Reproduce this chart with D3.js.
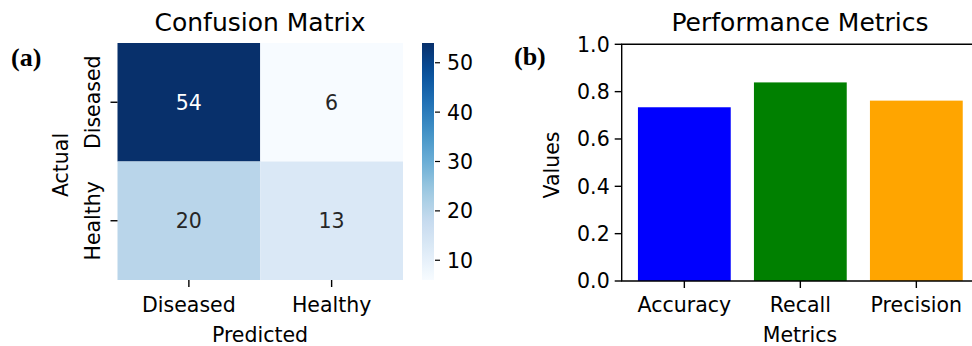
<!DOCTYPE html>
<html>
<head>
<meta charset="utf-8">
<script src="https://cdn.jsdelivr.net/npm/d3@7"></script>
<style>
  body { margin: 0; background: #fff; }
  svg text { font-family: "DejaVu Sans", sans-serif; }
</style>
</head>
<body>
<svg width="972" height="346"></svg>
<script>
(function () {
    // Data
    const classes = ["Diseased", "Healthy"];
    const matrix = [
        [54, 6],
        [20, 13],
    ];
    const cbTicks = [10, 20, 30, 40, 50];
    const metrics = ["Accuracy", "Recall", "Precision"];
    const metricValues = [0.734, 0.839, 0.762];
    const barColors = ["blue", "green", "orange"];
    const yTicks = [0.0, 0.2, 0.4, 0.6, 0.8, 1.0];

    const svg = d3.select("svg");
    const fs = 20.5;

    // matplotlib "Blues" (linear segments through the brewer colours)
    const blues = d3.piecewise(d3.interpolateRgb, [
        "#f7fbff", "#deebf7", "#c6dbef", "#9ecae1", "#6baed6",
        "#4292c6", "#2171b5", "#08519c", "#08306b",
    ]);
    const flat = matrix.flat();
    const vmin = d3.min(flat), vmax = d3.max(flat);
    const color = (v) => blues((v - vmin) / (vmax - vmin));

    // ---------- (a) heatmap ----------
    const hx = d3.scaleBand().domain(classes).range([117.5, 403]);
    const hy = d3.scaleBand().domain(classes).range([43, 280]);

    const cells = [];
    matrix.forEach((row, i) => row.forEach((v, j) => cells.push({ r: classes[i], c: classes[j], v })));

    const hm = svg.append("g");
    hm.selectAll("rect")
        .data(cells)
        .enter()
        .append("rect")
        .attr("x", (d) => hx(d.c))
        .attr("y", (d) => hy(d.r))
        .attr("width", hx.bandwidth())
        .attr("height", hy.bandwidth())
        .attr("fill", (d) => color(d.v));

    hm.selectAll("text.ann")
        .data(cells)
        .enter()
        .append("text")
        .attr("class", "ann")
        .attr("x", (d) => hx(d.c) + hx.bandwidth() / 2)
        .attr("y", (d) => hy(d.r) + hy.bandwidth() / 2)
        .attr("dy", "0.36em")
        .attr("text-anchor", "middle")
        .style("font-size", fs + "px")
        .attr("fill", (d) => ((d.v - vmin) / (vmax - vmin) > 0.5 ? "#ffffff" : "#262626"))
        .text((d) => d.v);

    // x ticks
    classes.forEach((c) => {
        const x = hx(c) + hx.bandwidth() / 2;
        hm.append("line").attr("x1", x).attr("x2", x).attr("y1", 280).attr("y2", 287)
            .attr("stroke", "#000").attr("stroke-width", 1.4);
        hm.append("text").attr("x", x).attr("y", 312).attr("text-anchor", "middle")
            .style("font-size", fs + "px").attr("fill", "#000").text(c);
    });
    // y ticks
    classes.forEach((c) => {
        const y = hy(c) + hy.bandwidth() / 2;
        hm.append("line").attr("x1", 110.5).attr("x2", 117.5).attr("y1", y).attr("y2", y)
            .attr("stroke", "#000").attr("stroke-width", 1.4);
        hm.append("text").attr("transform", `translate(100,${y}) rotate(-90)`)
            .attr("text-anchor", "middle").style("font-size", fs + "px").attr("fill", "#000").text(c);
    });
    hm.append("text").attr("x", 260).attr("y", 342).attr("text-anchor", "middle")
        .style("font-size", fs + "px").text("Predicted");
    hm.append("text").attr("transform", "translate(68,165) rotate(-90)")
        .attr("text-anchor", "middle").style("font-size", fs + "px").text("Actual");
    hm.append("text").attr("x", 260).attr("y", 31).attr("text-anchor", "middle")
        .style("font-size", "25px").text("Confusion Matrix");

    // colorbar
    const cy = d3.scaleLinear().domain([vmin, vmax]).range([280, 43]);
    const grad = svg.append("defs").append("linearGradient")
        .attr("id", "cbar").attr("x1", 0).attr("y1", 1).attr("x2", 0).attr("y2", 0);
    d3.range(0, 1.0001, 0.05).forEach((t) => {
        grad.append("stop").attr("offset", t).attr("stop-color", blues(t));
    });
    const cb = svg.append("g");
    cb.append("rect").attr("x", 422).attr("y", 43).attr("width", 12).attr("height", 237)
        .attr("fill", "url(#cbar)");
    cb.selectAll("g.tick")
        .data(cbTicks)
        .enter()
        .append("g")
        .attr("class", "tick")
        .each(function (d) {
            const g = d3.select(this);
            g.append("line").attr("x1", 435).attr("x2", 440).attr("y1", cy(d)).attr("y2", cy(d))
                .attr("stroke", "#000").attr("stroke-width", 1.2);
            g.append("text").attr("x", 447).attr("y", cy(d)).attr("dy", "0.36em")
                .style("font-size", fs + "px").text(d);
        });

    // ---------- (b) bar chart ----------
    const bx = d3.scaleLinear().domain([-0.54, 2.54]).range([621.7, 621.7 + 3.08 * 116]);
    const by = d3.scaleLinear().domain([0, 1]).range([281, 44.3]);

    const bc = svg.append("g");
    bc.selectAll("rect")
        .data(metricValues)
        .enter()
        .append("rect")
        .attr("x", (d, i) => bx(i - 0.4))
        .attr("width", bx(0.4) - bx(-0.4))
        .attr("y", (d) => by(d))
        .attr("height", (d) => by(0) - by(d))
        .attr("fill", (d, i) => barColors[i]);

    // spines
    const x0 = bx(-0.54), x1 = bx(2.54);
    bc.append("path")
        .attr("d", `M${x1},${by(1)}H${x0}V${by(0)}H${x1}V${by(1)}`)
        .attr("fill", "none").attr("stroke", "#000").attr("stroke-width", 1.4);

    yTicks.forEach((t) => {
        bc.append("line").attr("x1", x0 - 7).attr("x2", x0).attr("y1", by(t)).attr("y2", by(t))
            .attr("stroke", "#000").attr("stroke-width", 1.4);
        bc.append("text").attr("x", x0 - 12).attr("y", by(t)).attr("dy", "0.36em")
            .attr("text-anchor", "end").style("font-size", fs + "px").text(d3.format(".1f")(t));
    });
    metrics.forEach((m, i) => {
        bc.append("line").attr("x1", bx(i)).attr("x2", bx(i)).attr("y1", by(0)).attr("y2", by(0) + 7)
            .attr("stroke", "#000").attr("stroke-width", 1.4);
        bc.append("text").attr("x", bx(i)).attr("y", 312).attr("text-anchor", "middle")
            .style("font-size", fs + "px").text(m);
    });
    bc.append("text").attr("x", 800).attr("y", 342).attr("text-anchor", "middle")
        .style("font-size", fs + "px").text("Metrics");
    bc.append("text").attr("transform", "translate(559,165) rotate(-90)")
        .attr("text-anchor", "middle").style("font-size", fs + "px").text("Values");
    bc.append("text").attr("x", 800).attr("y", 31).attr("text-anchor", "middle")
        .style("font-size", "25px").text("Performance Metrics");

    // panel letters
    svg.append("text").attr("x", 11).attr("y", 66)
        .style("font-family", "'Liberation Serif', serif").style("font-weight", "bold")
        .style("font-size", "26px").text("(a)");
    svg.append("text").attr("x", 514).attr("y", 65)
        .style("font-family", "'Liberation Serif', serif").style("font-weight", "bold")
        .style("font-size", "26px").text("(b)");
})();
</script>
</body>
</html>
